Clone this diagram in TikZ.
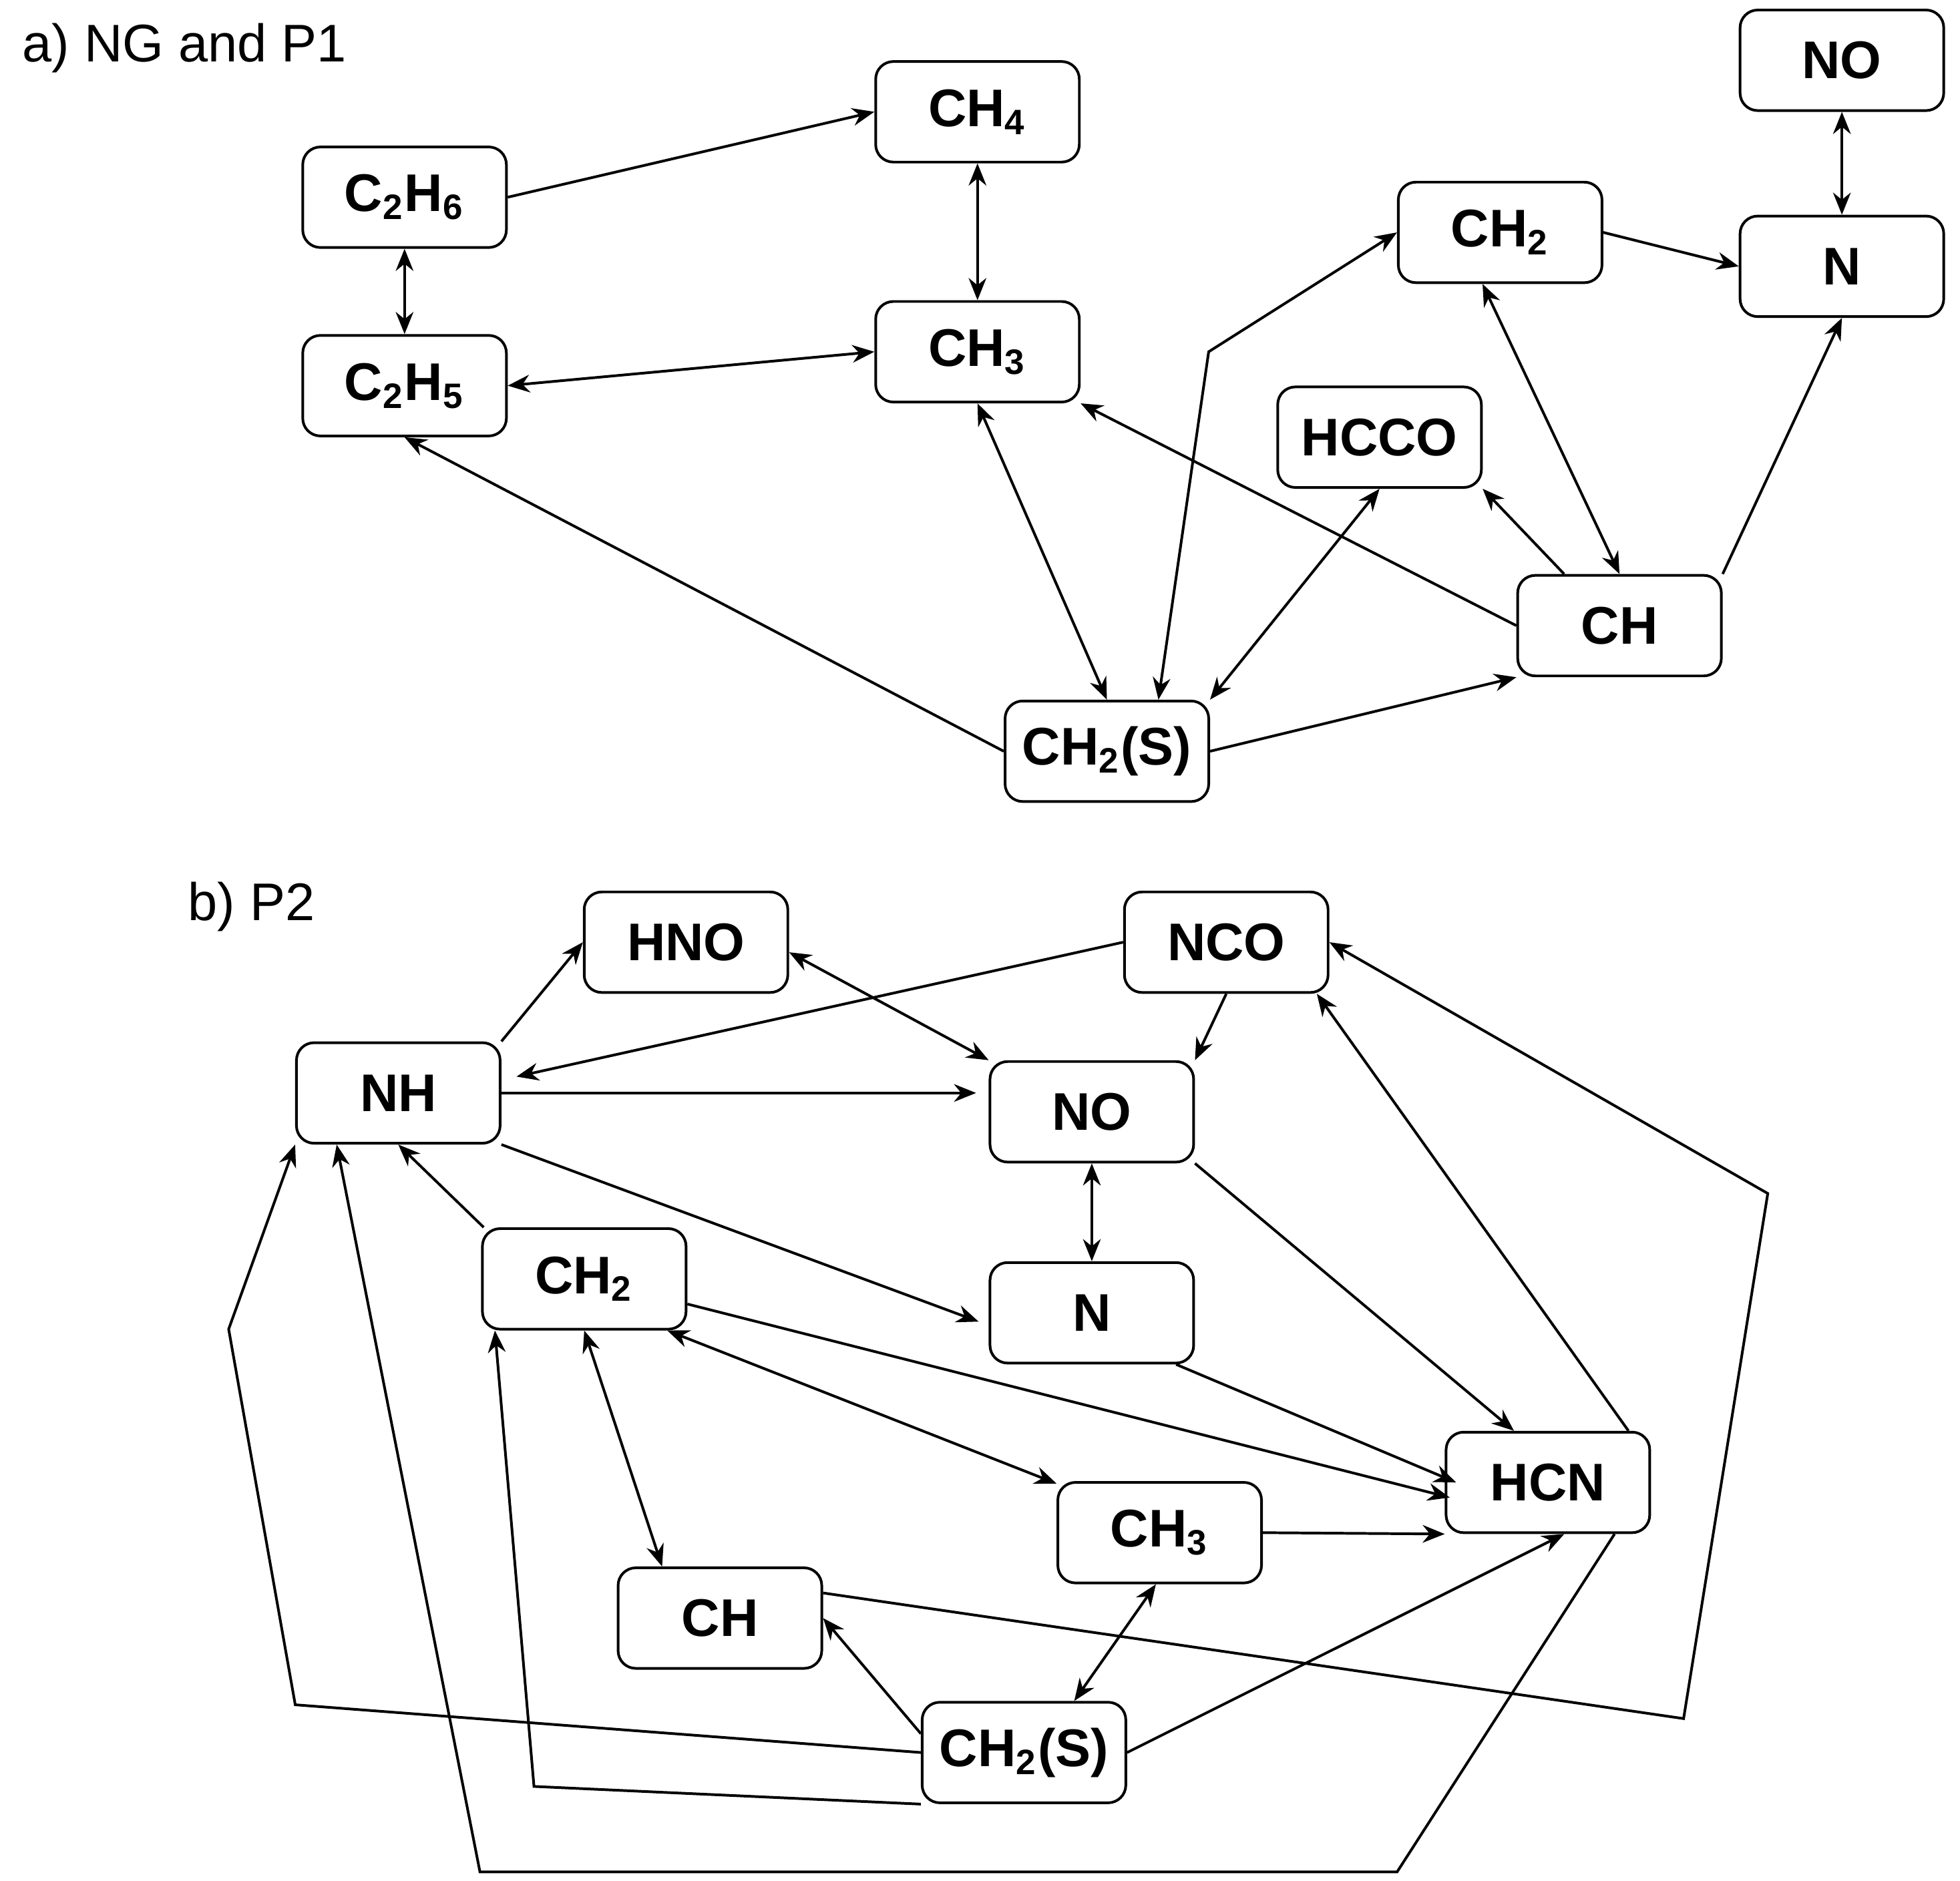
\documentclass[tikz,border=0pt]{standalone}
\usepackage{fontspec}
\setmainfont{Liberation Sans}
\usetikzlibrary{arrows.meta}

\begin{document}
\begin{tikzpicture}[x=0.01cm, y=-0.01cm,
		sp/.style={draw, rounded corners=4pt, minimum width=1.62cm,
			minimum height=0.8cm, font=\fontsize{12}{14}\selectfont\bfseries},
		>={Stealth[length=5pt, width=4pt]}, line width=0.6pt]
		\newcommand\sub[1]{\textsubscript{#1}}
		\useasboundingbox (0, 0) rectangle (1560, 1497);
		\node[right, font=\fontsize{12}{14}\selectfont] (ta) at (5, 38) {a) NG and P1};
		\node[right, font=\fontsize{12}{14}\selectfont] (tb) at (137, 722) {b) P2};
		% a) NG and P1
		\node[sp] (C2H6) at (322, 157) {C\sub{2}H\sub{6}};
		\node[sp] (CH4) at (778, 89) {CH\sub{4}};
		\node[sp] (CH3a) at (778, 280) {CH\sub{3}};
		\node[sp] (C2H5) at (322, 307) {C\sub{2}H\sub{5}};
		\node[sp] (CH2a) at (1194, 185) {CH\sub{2}};
		\node[sp] (NOa) at (1466, 48) {NO};
		\node[sp] (Na) at (1466, 212) {N};
		\node[sp] (HCCO) at (1098, 348) {HCCO};
		\node[sp] (CHa) at (1289, 498) {CH};
		\node[sp] (CH2Sa) at (881, 598) {CH\sub{2}(S)};
		\draw[->] (C2H6.east) -- (CH4.west);
		\draw[<->] (CH4) -- (CH3a);
		\draw[<->] (C2H6) -- (C2H5);
		\draw[<->] (C2H5.east) -- (CH3a.west);
		\draw[->] (CH2Sa.west) -- (C2H5.south);
		\draw[<->] (CH3a.south) -- (CH2Sa.north);
		\draw[->] (CHa.west) -- (CH3a.south east);
		\draw[<->] (HCCO.south) -- (CH2Sa.north east);
		\draw[->] ([xshift=0.38cm]CHa.north west) -- (HCCO.south east);
		\draw[->] (CH2Sa.east) -- (CHa.south west);
		\draw[<->] ([xshift=0.41cm]CH2Sa.north) -- (962, 280) -- (CH2a.west);
		\draw[<->] ([xshift=-0.14cm]CH2a.south) -- (CHa.north);
		\draw[->] (CHa.north east) -- (Na.south);
		\draw[->] (CH2a.east) -- (Na.west);
		\draw[<->] (NOa) -- (Na);
		% b) P2
		\node[sp] (HNO) at (546, 750) {HNO};
		\node[sp] (NCO) at (976, 750) {NCO};
		\node[sp] (NH) at (317, 870) {NH};
		\node[sp] (NOb) at (869, 885) {NO};
		\node[sp] (CH2b) at (465, 1018) {CH\sub{2}};
		\node[sp] (Nb) at (869, 1045) {N};
		\node[sp] (HCN) at (1232, 1180) {HCN};
		\node[sp] (CH3b) at (923, 1220) {CH\sub{3}};
		\node[sp] (CHb) at (573, 1288) {CH};
		\node[sp] (CH2Sb) at (815, 1395) {CH\sub{2}(S)};
		\draw[->] (NH.north east) -- (HNO.west);
		\draw[<->] ([yshift=-0.08cm]HNO.east) -- (NOb.north west);
		\draw[->] (NCO.west) -- ([xshift=0.12cm, yshift=0.13cm]NH.east);
		\draw[->] (NCO.south) -- (NOb.north east);
		\draw[->] (NH.east) -- ([xshift=-0.1cm]NH.east -| NOb.west);
		\draw[->] (NH.south east) -- ([xshift=-0.08cm, yshift=-0.07cm]Nb.west);
		\draw[<->] (NOb) -- (Nb);
		\draw[->] (CH2b.north) ++(-0.8cm, 0) -- (NH.south);
		\draw[->] (NOb.south east) -- ([xshift=-0.27cm]HCN.north);
		\draw[->] ([xshift=-0.15cm]Nb.south east) -- ([xshift=0.09cm]HCN.west);
		\draw[->] ([yshift=-0.2cm]CH2b.east) -- ([xshift=0.04cm, yshift=-0.12cm]HCN.west);
		\draw[<->] ([xshift=-0.16cm]CH2b.south east) -- ([yshift=-0.02cm]CH3b.north west);
		\draw[<->] (CH2b.south) -- ([xshift=-0.46cm]CHb.north);
		\draw[->] (CH3b.east) -- (HCN.south west);
		\draw[<->] ([xshift=-0.03cm]CH3b.south) -- ([xshift=0.4cm]CH2Sb.north);
		\draw[->] ([yshift=0.15cm]CH2Sb.west) -- (CHb.east);
		\draw[->] (CH2Sb.east) -- ([xshift=0.13cm]HCN.south);
		\draw[->] ([xshift=-0.18cm]HCN.north east) -- ([xshift=-0.1cm]NCO.south east);
		\draw[->] ([yshift=0.2cm]CHb.east) -- (1340, 1368) -- (1407, 950) -- (NCO.east);
		\draw[->] (CH2Sb.west) -- (235, 1357) -- (182, 1058) -- (NH.south west);
		\draw[->] (CH2Sb.south west) -- (425, 1422) -- ([xshift=0.11cm]CH2b.south west);
		\draw[->] ([xshift=0.53cm]HCN.south) -- (1112, 1490) -- (382, 1490)
			-- ([xshift=-0.49cm]NH.south);
	\end{tikzpicture}
\end{document}
